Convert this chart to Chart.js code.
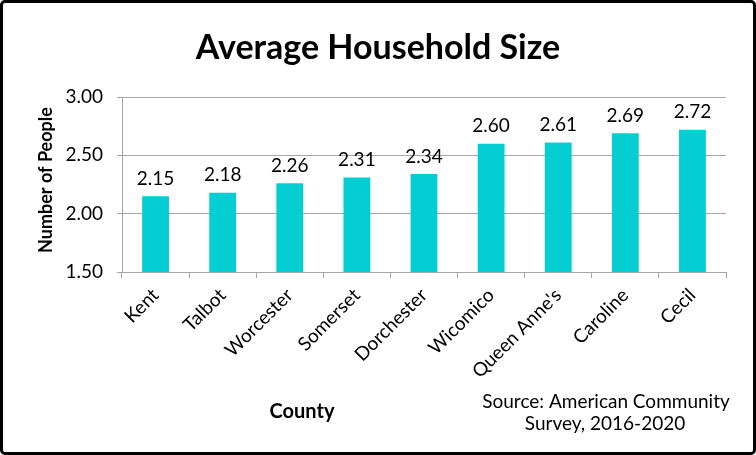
<!DOCTYPE html>
<html>
<head>
<meta charset="utf-8">
<script src="https://cdn.jsdelivr.net/npm/chart.js@4"></script>
<style>
  html, body { margin: 0; padding: 0; background: #fff; }
  #wrap { position: relative; width: 756px; height: 455px; }
  #frame {
    position: absolute; left: 0; top: 0; width: 756px; height: 455px;
    box-sizing: border-box; border: 3px solid #000; border-radius: 5px;
    pointer-events: none;
  }
</style>
</head>
<body>
<div id="wrap">
  <canvas id="sizeChart" width="756" height="455"></canvas>
  <div id="frame"></div>
</div>
<script>
// Chart data
const counties = ['Kent', 'Talbot', 'Worcester', 'Somerset', 'Dorchester', 'Wicomico', "Queen Anne's", 'Caroline', 'Cecil'];
const householdSize = [2.15, 2.18, 2.26, 2.31, 2.34, 2.60, 2.61, 2.69, 2.72];
const yTicks = [1.5, 2.0, 2.5, 3.0];

const chartTitle = 'Average Household Size';
const xTitle = 'County';
const yTitle = 'Number of People';
const sourceLines = ['Source: American Community', 'Survey, 2016-2020'];

const FONT = 'Lato, "Open Sans", sans-serif';

// Draws the title, axis titles, source note and value labels
const annotations = {
    id: 'annotations',
    afterDatasetsDraw(chart) {
        const ctx = chart.ctx;
        ctx.save();
        ctx.fillStyle = '#000';
        ctx.textAlign = 'center';
        ctx.textBaseline = 'middle';

        // title
        ctx.font = 'bold 34px ' + FONT;
        ctx.fillText(chartTitle, 378, 48);

        // value labels above bars
        ctx.font = '19px ' + FONT;
        ctx.textBaseline = 'bottom';
        chart.getDatasetMeta(0).data.forEach((bar, i) => {
            ctx.fillText(householdSize[i].toFixed(2), bar.x, bar.y - 8);
        });

        // x axis title
        ctx.textBaseline = 'middle';
        ctx.font = 'bold 20px ' + FONT;
        ctx.fillText(xTitle, 302, 412);

        // y axis title
        ctx.save();
        ctx.translate(46, 180);
        ctx.rotate(-Math.PI / 2);
        ctx.font = 'bold 18px ' + FONT;
        ctx.fillText(yTitle, 0, 0);
        ctx.restore();

        // source note
        ctx.font = '19px ' + FONT;
        ctx.fillText(sourceLines[0], 606, 402);
        ctx.fillText(sourceLines[1], 605, 424);

        ctx.restore();
    }
};

new Chart(document.getElementById('sizeChart'), {
    type: 'bar',
    data: {
        labels: counties,
        datasets: [{
            data: householdSize,
            backgroundColor: '#05CED3',
            borderWidth: 0,
            barPercentage: 0.4,
            categoryPercentage: 1.0
        }]
    },
    options: {
        responsive: false,
        animation: false,
        layout: {
            padding: { top: 97, right: 30, left: 0, bottom: 0 }
        },
        plugins: {
            legend: { display: false },
            title: { display: false },
            tooltip: { enabled: false }
        },
        scales: {
            x: {
                offset: true,
                grid: {
                    offset: true,
                    drawOnChartArea: false,
                    color: '#A6A6A6',
                    tickLength: 6
                },
                border: { color: '#A6A6A6' },
                ticks: {
                    color: '#000',
                    font: { family: FONT, size: 19 },
                    maxRotation: 45,
                    minRotation: 45,
                    padding: 6
                },
                afterFit(scale) { scale.height = 183; }
            },
            y: {
                min: yTicks[0],
                max: yTicks[yTicks.length - 1],
                afterBuildTicks(scale) {
                    scale.ticks = yTicks.map(v => ({ value: v }));
                },
                grid: {
                    color: '#A6A6A6',
                    tickLength: 5
                },
                border: { color: '#A6A6A6' },
                ticks: {
                    color: '#000',
                    font: { family: FONT, size: 19 },
                    padding: 14,
                    callback: v => v.toFixed(2)
                },
                afterFit(scale) { scale.width = 122; }
            }
        }
    },
    plugins: [annotations]
});
</script>
</body>
</html>
